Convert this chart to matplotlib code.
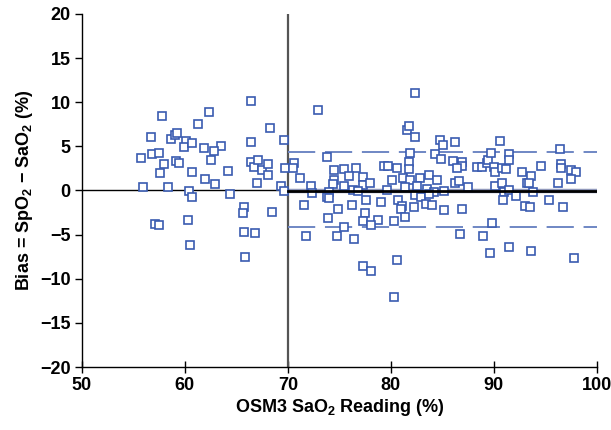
'''
Bland-Altman style bias plot: SpO2 - SaO2 versus OSM3 SaO2 reading.
'''

import matplotlib.pyplot as plt
from matplotlib import font_manager

# Bias points, grouped roughly by x range
sao2_low = [57.8, 56.7, 55.7, 56.8, 57.5, 58.0, 57.6, 55.9, 58.4, 58.7, 59.0, 59.2,
            59.1, 59.4, 60.1, 59.9, 60.7, 61.3, 62.3, 61.9, 60.7, 62.0, 60.4, 60.7,
            57.1, 57.5, 60.3, 60.5, 62.5, 66.4, 68.3, 69.6, 66.4, 63.5, 62.8, 64.2,
            62.9, 66.4, 66.7, 67.1, 67.5, 68.1, 68.1, 67.0, 69.7, 69.3, 69.6, 64.4,
            65.7, 65.6, 68.5, 65.7, 66.8, 65.8]
bias_low = [8.4, 6.1, 3.7, 4.1, 4.2, 2.95, 2.0, 0.45, 0.45, 5.8, 6.3, 6.5,
            3.3, 3.1, 5.6, 4.9, 5.4, 7.5, 8.9, 4.85, 2.05, 1.3, -0.1, -0.75,
            -3.75, -3.9, -3.4, -6.2, 3.5, 10.1, 7.1, 5.7, 5.45, 5.0, 4.5, 2.2,
            0.7, 3.2, 2.7, 3.5, 2.3, 2.95, 1.8, 0.9, 2.6, 0.5, -0.1, -0.4,
            -1.9, -2.5, -2.4, -4.7, -4.85, -7.5]

sao2_mid = [72.9, 70.6, 70.5, 71.2, 73.8, 74.5, 75.4, 76.6, 75.9, 74.5, 74.4, 75.4,
            77.3, 77.3, 72.2, 72.3, 74.0, 76.3, 76.8, 73.8, 74.0, 71.6, 74.9, 76.2,
            77.6, 73.9, 77.5, 77.3, 75.4, 71.8, 74.8, 76.4, 77.3,
            82.3, 81.6, 81.8, 82.3, 84.8, 85.1, 84.3, 84.9, 81.9, 81.8, 81.8, 79.3,
            79.7, 80.6, 78.0, 80.1, 81.2, 81.9, 82.8, 83.7, 84.5, 81.4, 82.5, 79.6,
            83.5, 84.2, 85.2, 82.3, 82.9, 83.7, 79.0, 80.7, 81.1, 81.0, 82.2, 83.4,
            84.0, 85.2, 78.7, 78.1, 80.3, 81.4, 80.6, 78.1, 80.3]
bias_mid = [9.1, 3.15, 2.5, 1.45, 3.75, 2.3, 2.4, 2.6, 1.6, 1.2, 0.7, 0.5,
            1.5, 0.6, 0.5, -0.3, -0.15, 0.1, -0.1, -0.75, -0.9, -1.6, -2.1, -1.6,
            -1.05, -3.1, -2.6, -3.5, -4.1, -5.1, -5.1, -5.5, -8.6,
            11.05, 6.9, 7.3, 6.1, 5.7, 5.2, 4.1, 3.6, 4.25, 3.25, 2.4, 2.8,
            2.8, 2.6, 0.9, 1.2, 1.45, 1.2, 1.4, 1.8, 1.2, 0.45, 0.5, 0.0,
            0.2, -0.15, -0.05, -0.5, -0.75, -0.45, -1.3, -1.1, -1.75, -2.05, -1.9, -1.5,
            -1.6, -2.2, -3.3, -3.9, -3.5, -3.0, -7.9, -9.1, -12.1]

sao2_high = [86.2, 90.6, 86.0, 86.9, 86.9, 86.4, 88.4, 88.8, 89.3, 89.4, 89.7, 90.0,
             90.1, 90.8, 91.2, 91.5, 91.5, 92.7, 86.2, 86.6, 87.5, 90.1, 90.8, 91.0,
             91.5, 92.1, 90.9, 93.0, 93.2, 86.9, 89.8, 86.7, 88.9, 91.5, 89.6,
             96.4, 94.6, 96.5, 96.5, 97.5, 98.0, 97.5, 93.6, 93.4, 96.2, 93.8, 95.3,
             96.7, 93.5, 93.6, 97.8]
bias_high = [5.5, 5.6, 3.3, 3.2, 2.8, 2.5, 2.7, 2.65, 3.1, 3.4, 4.25, 2.7,
             2.1, 2.6, 2.4, 4.1, 3.4, 2.1, 0.8, 1.05, 0.45, 0.55, 0.8, -0.15,
             0.1, -0.65, -1.05, -1.8, 0.8, -2.1, -3.7, -4.9, -5.15, -6.4, -7.1,
             4.7, 2.75, 2.95, 2.6, 2.35, 2.1, 1.35, 1.65, 0.9, 0.8, -0.15, -1.05,
             -1.9, -1.9, -6.8, -7.65]

# Mean bias and limits of agreement for readings >= 70 %
split_x = 70
mean_bias = -0.05
upper_loa = 4.35
lower_loa = -4.17


def main() -> None:
    names = {f.name for f in font_manager.fontManager.ttflist}
    family = 'Liberation Sans Narrow' if 'Liberation Sans Narrow' in names else 'Liberation Sans'
    plt.rcParams['font.family'] = [family, 'DejaVu Sans']
    plt.rcParams['font.weight'] = 'bold'
    plt.rcParams['mathtext.fontset'] = 'custom'
    plt.rcParams['mathtext.rm'] = f'{family}:bold'
    plt.rcParams['mathtext.default'] = 'rm'

    fig = plt.figure(figsize=(6.11, 4.30), dpi=100)
    ax = fig.add_axes([0.134, 0.1465, 0.843, 0.821])

    xs = sao2_low + sao2_mid + sao2_high
    ys = bias_low + bias_mid + bias_high

    # Reference lines
    ax.plot([50, split_x], [0, 0], color='black', linewidth=1.0, zorder=2)
    ax.axvline(split_x, color='#555555', linewidth=1.6, zorder=2)
    ax.plot([split_x, 100], [mean_bias, mean_bias], color='#223377',
            linewidth=3.2, zorder=2, alpha=0.5)
    ax.plot([split_x, 100], [mean_bias, mean_bias], color='black',
            linewidth=2.0, zorder=4)
    for level in (upper_loa, lower_loa):
        ax.plot([split_x, 100], [level, level], color='#6f87c4', linewidth=1.4,
                dashes=(14, 5), zorder=2)

    ax.plot(xs, ys, linestyle='none', marker='s', markersize=5.6,
            markerfacecolor='white', markeredgecolor='#3a5bb0',
            markeredgewidth=1.2, zorder=3)

    ax.set_xlim(50, 100)
    ax.set_ylim(-20, 20)
    ax.set_xticks(range(50, 101, 10))
    ax.set_yticks(range(-20, 21, 5))

    for side in ('top', 'right'):
        ax.spines[side].set_visible(False)
    ax.spines['left'].set_linewidth(1.0)
    ax.spines['bottom'].set_linewidth(1.0)
    ax.tick_params(axis='x', direction='inout', length=8, width=1.0,
                   labelsize=13, pad=3)
    ax.tick_params(axis='y', direction='out', length=5, width=1.0,
                   labelsize=13, pad=3)

    ax.set_xlabel(r'OSM3 SaO$_2$ Reading (%)', fontsize=13, fontweight='bold',
                  labelpad=2)
    ax.set_ylabel(r'Bias = SpO$_2$ $-$ SaO$_2$ (%)', fontsize=13,
                  fontweight='bold', labelpad=4)

    fig.savefig('out.png', dpi=100)
    plt.close(fig)


if __name__ == "__main__":
    main()
